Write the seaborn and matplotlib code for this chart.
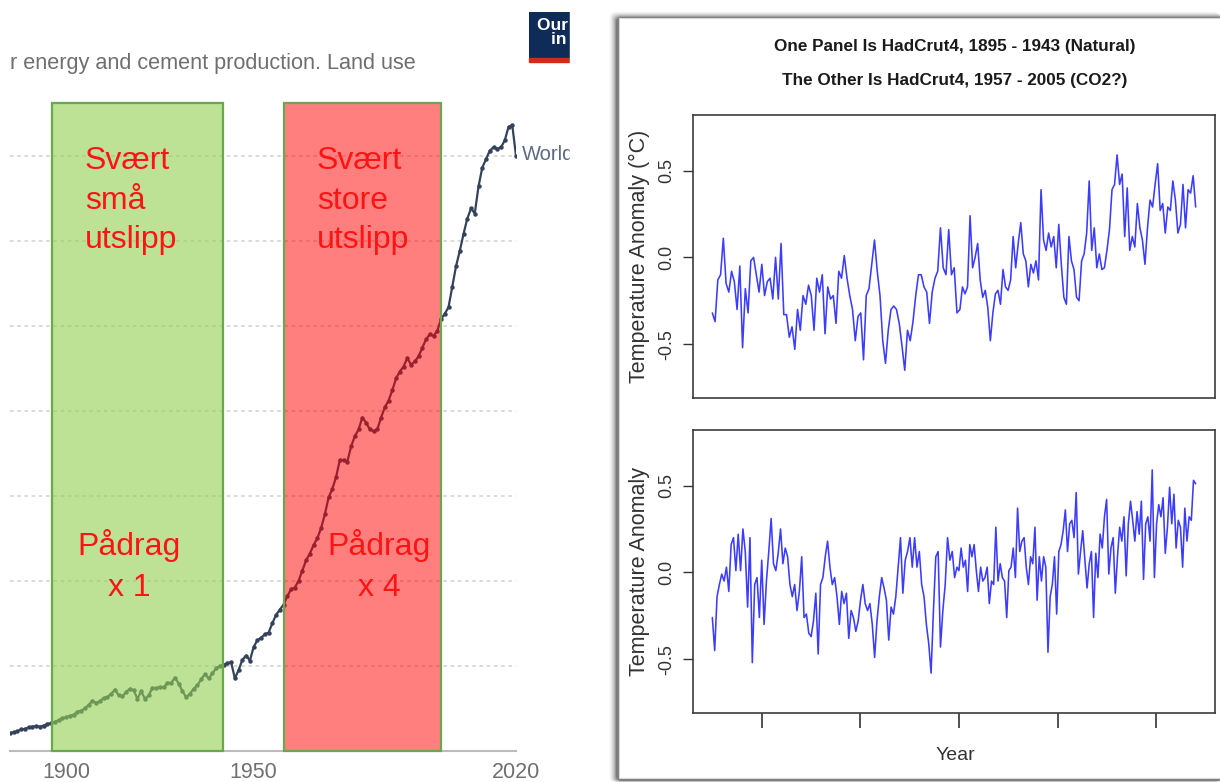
import numpy as np
import seaborn as sns
import matplotlib.pyplot as plt
from matplotlib.patches import Rectangle, FancyBboxPatch
from matplotlib.colors import to_rgba

W, H = 1220, 782

# left picture: annual CO2 emissions (billion tonnes)
co2_years = list(range(1885, 2021))
co2_values = [
    1.05, 1.08, 1.15, 1.25, 1.28, 1.38, 1.42, 1.44, 1.42, 1.48,
    1.58, 1.62, 1.70, 1.80, 1.92, 1.96, 2.05, 2.12, 2.30, 2.35,
    2.50, 2.70, 2.95, 2.80, 2.92, 3.10, 3.15, 3.35, 3.60, 3.25,
    3.20, 3.45, 3.65, 3.55, 3.05, 3.50, 3.05, 3.25, 3.70, 3.68,
    3.75, 3.72, 4.00, 3.98, 4.30, 3.95, 3.50, 3.15, 3.35, 3.65,
    3.85, 4.20, 4.50, 4.25, 4.55, 4.85, 5.00, 5.05, 5.15, 5.20,
    4.25, 4.75, 5.35, 5.60, 5.30, 6.10, 6.50, 6.65, 6.85, 6.95,
    7.50, 8.00, 8.30, 8.60, 9.10, 9.50, 9.60, 10.0, 10.6, 11.2,
    11.6, 12.1, 12.5, 13.1, 13.9, 14.9, 15.4, 16.1, 17.1, 17.1,
    17.0, 17.9, 18.5, 18.9, 19.6, 19.3, 18.9, 18.8, 18.9, 19.6,
    20.2, 20.6, 21.2, 21.9, 22.3, 22.6, 23.1, 22.7, 22.9, 23.2,
    23.7, 24.2, 24.5, 24.4, 24.7, 25.4, 25.7, 26.1, 27.3, 28.5,
    29.4, 30.4, 31.3, 31.9, 31.6, 33.2, 34.3, 34.8, 35.3, 35.5,
    35.4, 35.5, 35.9, 36.7, 36.8, 35.0,
]
co2_grid = [5, 10, 15, 20, 25, 30, 35]
co2_xticks = [1900, 1950, 2020]

period_start = [1896.3, 1958.1]
period_end = [1941.8, 2000.0]
period_colors = ['#92d050', '#ff0000']
period_alpha = [0.6, 0.5]
period_top = 38.1
period_head = ['Svært\nsmå\nutslipp', 'Svært\nstore\nutslipp']
period_foot = ['Pådrag\nx 1', 'Pådrag\nx 4']

# right picture: HadCrut4 monthly anomaly, two 49-year panels (sampled by eye)
top_first = [
    -0.32, -0.37, -0.13, -0.10, 0.11, -0.15, -0.20, -0.08, -0.14, -0.30,
    -0.05, -0.52, -0.18, -0.32, -0.02, 0.00, -0.10, -0.20, -0.04, -0.22,
    -0.14, -0.12, -0.24, 0.00, -0.24, 0.08, -0.33, -0.33, -0.46, -0.40,
    -0.53, -0.30, -0.42, -0.22, -0.27, -0.16, -0.22, -0.42, -0.12, -0.20,
    -0.10, -0.44, -0.17, -0.24, -0.22, -0.38, -0.08, -0.12, 0.01, -0.12,
    -0.22, -0.30, -0.48, -0.34, -0.32, -0.59, -0.22, -0.18, -0.04, 0.10,
    -0.08, -0.22, -0.48, -0.61, -0.42, -0.30, -0.28, -0.30, -0.38, -0.51,
    -0.65, -0.42, -0.48, -0.37, -0.22, -0.10, -0.10, -0.17, -0.20, -0.38,
    -0.20, -0.12, -0.08, 0.17, -0.06, -0.10, 0.16, -0.10, -0.06, -0.32,
]
top_second = [
    -0.30, -0.17, -0.21, -0.17, 0.24, -0.06, 0.00, 0.08, -0.13, -0.23,
    -0.19, -0.29, -0.48, -0.32, -0.21, -0.19, -0.27, -0.07, -0.17, -0.19,
    -0.13, 0.12, -0.06, 0.08, 0.20, 0.02, -0.02, -0.17, -0.04, -0.09,
    -0.02, -0.13, 0.39, 0.10, 0.04, 0.14, 0.06, 0.12, -0.06, 0.19,
    -0.04, -0.23, -0.27, 0.12, -0.02, -0.07, -0.23, -0.25, -0.02, 0.02,
    0.14, 0.44, 0.04, 0.17, -0.06, 0.02, -0.07, -0.06, 0.04, 0.16,
    0.39, 0.42, 0.59, 0.42, 0.48, 0.12, 0.40, 0.04, 0.12, 0.06,
    0.31, 0.17, 0.10, -0.04, 0.17, 0.33, 0.29, 0.42, 0.54, 0.27,
    0.31, 0.14, 0.29, 0.27, 0.44, 0.33, 0.14, 0.19, 0.42, 0.17,
    0.39, 0.37, 0.47, 0.29,
]
bot_first = [
    -0.26, -0.45, -0.14, -0.07, -0.01, -0.05, 0.03, -0.11, 0.16, 0.20,
    0.01, 0.22, 0.01, 0.25, 0.12, -0.20, 0.20, -0.52, -0.07, -0.03,
    -0.26, 0.07, -0.30, -0.05, 0.12, 0.31, 0.05, 0.01, 0.11, 0.25,
    0.05, 0.14, 0.09, -0.07, -0.14, -0.07, -0.22, -0.11, 0.09, -0.26,
    -0.24, -0.35, -0.37, -0.28, -0.12, -0.47, -0.07, -0.03, 0.09, 0.18,
    0.03, -0.07, -0.03, -0.14, -0.30, -0.11, -0.18, -0.12, -0.38, -0.22,
    -0.26, -0.34, -0.28, -0.16, -0.07, -0.18, -0.22, -0.18, -0.30, -0.49,
    -0.28, -0.14, -0.03, -0.09, -0.16, -0.39, -0.20, -0.24, -0.14, 0.03,
    0.20, -0.12, 0.07, 0.12, 0.20, 0.03, 0.20, 0.03, 0.12, -0.07,
    -0.14, -0.30, -0.41, -0.58, -0.22, 0.09, 0.12, -0.43, -0.22, -0.07,
    0.20, 0.07, 0.12, -0.03, 0.03,
]
bot_second = [
    0.01, 0.14, 0.03, 0.07, -0.11, 0.16, 0.09, 0.16, 0.01, -0.11,
    0.03, -0.05, -0.03, 0.03, -0.18, -0.05, -0.07, 0.26, -0.05, 0.05,
    -0.03, -0.05, -0.26, 0.01, 0.03, 0.14, -0.03, 0.37, 0.12, 0.18,
    0.20, 0.03, -0.07, 0.09, 0.05, 0.26, -0.16, 0.09, -0.05, 0.09,
    0.03, -0.46, -0.14, -0.07, 0.09, -0.24, 0.12, 0.16, 0.24, 0.36,
    0.12, 0.28, 0.30, 0.20, 0.46, -0.01, 0.12, 0.24, 0.07, -0.09,
    0.05, 0.12, -0.26, 0.11, -0.03, 0.22, 0.14, 0.32, 0.42, -0.01,
    0.14, 0.20, -0.12, 0.09, 0.26, 0.18, 0.32, -0.02, 0.28, 0.41,
    0.30, 0.18, 0.35, 0.22, 0.41, -0.04, 0.28, 0.32, 0.18, 0.59,
    -0.03, 0.28, 0.39, 0.32, 0.43, 0.11, 0.26, 0.49, 0.28, 0.45,
    0.14, 0.30, 0.26, 0.03, 0.37, 0.18, 0.32, 0.30, 0.53, 0.51,
]
anom_ticks = [-0.5, 0.0, 0.5]
anom_ticklabels = ['-0.5', '0.0', '0.5']
year_ticks = [1900, 1910, 1920, 1930, 1940]
titles = ['One Panel Is HadCrut4, 1895 - 1943 (Natural)',
          'The Other Is HadCrut4, 1957 - 2005 (CO2?)']

sns.set_style('white')
plt.rcParams['font.family'] = ['Liberation Sans', 'DejaVu Sans']
NARROW = ['Liberation Sans Narrow', 'Liberation Sans', 'DejaVu Sans']

fig = plt.figure(figsize=(W / 100, H / 100), dpi=100)


def box(x, y, w, h):
    # pixel box (top-left origin) -> figure fraction rect
    return [x / W, 1 - (y + h) / H, w / W, h / H]


def fx(x):
    return x / W


def fy(y):
    return 1 - y / H


# ---------------- left: OWID emissions chart with coloured periods
ax = fig.add_axes(box(10, 100, 506, 650.7))
sns.lineplot(x=co2_years, y=co2_values, ax=ax, color='#34425c', lw=1.6,
             marker='o', markersize=3.2, markeredgewidth=0, estimator=None,
             zorder=2)
for x0, x1, c, a in zip(period_start, period_end, period_colors, period_alpha):
    ax.add_patch(Rectangle((x0, 0), x1 - x0, period_top,
                           facecolor=to_rgba(c, a), edgecolor='#6aa84f',
                           lw=1.6, zorder=3, clip_on=False))
ax.set_xlim(1885, 2020)
ax.set_ylim(0, 38.28)
ax.set_yticks(co2_grid)
ax.yaxis.grid(True, ls=(0, (2, 2)), color='#d8d8d8', lw=1.3)
ax.tick_params(axis='y', length=0, labelleft=False)
ax.set_xticks(co2_xticks)
ax.tick_params(axis='x', length=6, width=1.3, color='#bcbcbc',
               labelsize=15.5, labelcolor='#707070', pad=2)
for s in ['top', 'right', 'left']:
    ax.spines[s].set_visible(False)
ax.spines['bottom'].set_color('#bcbcbc')
ax.spines['bottom'].set_linewidth(1.5)
ax.set_xlabel('')
ax.set_ylabel('')
ax.text(2021.5, co2_values[-1] + 0.1, 'World', color='#5b6b82', fontsize=14.5,
        va='center', ha='left', clip_on=False)

head_x = [85, 317]
foot_x = [129, 379]
for i in range(2):
    fig.text(fx(head_x[i]), fy(146), period_head[i], color='#ff1414',
             fontsize=23, ha='left', va='top', linespacing=1.42, zorder=6)
    fig.text(fx(foot_x[i]), fy(529), period_foot[i], color='#ff1414',
             fontsize=23, ha='center', va='top', linespacing=1.47,
             multialignment='center', zorder=6)

fig.text(fx(10), fy(64), 'r energy and cement production. Land use',
         color='#6f6f6f', fontsize=15.6, ha='left', va='center')

# OWID logo corner, cut at the picture edge
logo = fig.add_axes(box(529, 12, 41, 46))
logo.set_facecolor('#0e2c57')
logo.set_xticks([])
logo.set_yticks([])
for s in logo.spines.values():
    s.set_visible(False)
logo.text(0.2, 0.56, 'Our World\nin Data', color='white', fontsize=12.5,
          weight='bold', ha='left', va='center', multialignment='center',
          transform=logo.transAxes, clip_on=True, linespacing=0.95)
fig.add_artist(Rectangle((fx(529), fy(62)), 41 / W, 4 / H,
                         transform=fig.transFigure, color='#d22a1e', zorder=4))

# white gap between the two pictures
fig.add_artist(Rectangle((fx(570), 0), 36 / W, 1, transform=fig.transFigure,
                         color='white', zorder=5))

# ---------------- right: card with the two HadCrut4 panels
for i, a in enumerate([0.18, 0.14, 0.10, 0.08, 0.06, 0.04, 0.03, 0.02]):
    fig.add_artist(FancyBboxPatch((fx(616 - i), fy(781 + i * 0.2)), 610 / W,
                                  (764 + i) / H,
                                  boxstyle='round,pad=0,rounding_size=0.006',
                                  transform=fig.transFigure, color='black',
                                  alpha=a, lw=0, zorder=-2))
fig.add_artist(Rectangle((fx(619), fy(778)), 603 / W, 760 / H,
                         transform=fig.transFigure, facecolor='white',
                         edgecolor='#d8d8d8', lw=0.8, zorder=-1))

top_x = np.concatenate([np.linspace(1895, 1919.8, len(top_first)),
                        np.linspace(1920.1, 1944, len(top_second))])
bot_x = np.concatenate([np.linspace(1895, 1919.8, len(bot_first)),
                        np.linspace(1920.0, 1944, len(bot_second))])
panels = [(box(693, 115, 522, 283), top_x, top_first + top_second,
           'Temperature Anomaly (°C)'),
          (box(693, 430, 522, 283), bot_x, bot_first + bot_second,
           'Temperature Anomaly')]
for k, (pos, xs, ys, lab) in enumerate(panels):
    axr = fig.add_axes(pos)
    sns.lineplot(x=xs, y=ys, ax=axr, color='#3c3cff', lw=1.15, estimator=None)
    axr.set_xlim(1893.04, 1945.96)
    axr.set_ylim(-0.81, 0.82)
    axr.set_yticks(anom_ticks)
    axr.set_yticklabels(anom_ticklabels, rotation=90, va='center',
                        family=NARROW)
    axr.tick_params(axis='y', left=True, length=7, width=1, color='#333333',
                    labelsize=13, labelcolor='#333333', pad=6)
    if k == 1:
        axr.set_xticks(year_ticks)
        axr.tick_params(axis='x', bottom=True, length=11, width=1.2,
                        color='#333333', labelbottom=False)
    else:
        axr.set_xticks([])
    for s in axr.spines.values():
        s.set_color('#3c3c3c')
        s.set_linewidth(1.2)
    axr.set_xlabel('')
    axr.set_ylabel('')
    cy = pos[1] + pos[3] / 2
    fig.text(fx(639), cy, lab, rotation=90, ha='center', va='center',
             fontsize=15.5, color='#333333')

fig.text(fx(955), fy(47), titles[0], ha='center', va='center', fontsize=12.3,
         weight='bold', family=NARROW, color='#1a1a1a')
fig.text(fx(955), fy(80), titles[1], ha='center', va='center', fontsize=12.3,
         weight='bold', family=NARROW, color='#1a1a1a')
fig.text(fx(955), fy(755), 'Year', ha='center', va='center', fontsize=14,
         family=NARROW, color='#333333')

fig.savefig('out.png', dpi=100)
